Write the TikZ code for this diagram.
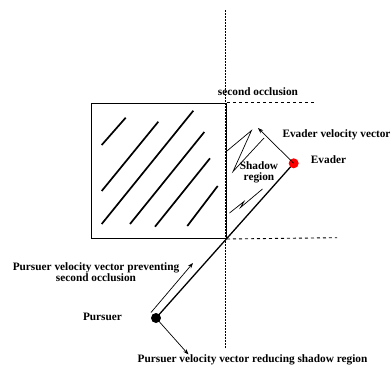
\documentclass[tikz,border=0pt]{standalone}
\usepackage{fontspec}
\setmainfont{Liberation Serif}
\usetikzlibrary{arrows.meta}
\begin{document}
\begin{tikzpicture}[x=1pt,y=-1pt,
  lbl/.style={font=\bfseries\fontsize{11.3}{11}\selectfont, inner sep=0pt, align=center},
  thin line/.style={line width=0.7pt},
  vec/.style={line width=0.7pt, -{Stealth[length=5.5pt,width=4pt]}},
  hatch/.style={line width=1.7pt},
  dotline/.style={line width=0.9pt, dash pattern=on 1.5pt off 1.5pt},
  dashline/.style={line width=0.9pt, dash pattern=on 3pt off 3pt}]
\useasboundingbox (0,0) rectangle (391,367);
% obstacle
\node[draw, line width=1.3pt, minimum width=134.7pt, minimum height=135pt, inner sep=0pt, anchor=north west] (box) at (91,102.7) {};
\draw[hatch] (101.7,145) -- (125.7,117.7);
\draw[hatch] (101.7,191) -- (158.3,121.7);
\draw[hatch] (101.7,224) -- (193.3,110.7);
\draw[hatch] (130,224) -- (204.3,132);
\draw[hatch] (155,226.7) -- (210,158.3);
\draw[hatch] (187.3,226) -- (217.7,186);
% guide lines
\coordinate (vtop) at (225.7,10);
\coordinate (vbot) at (225.7,348);
\draw[dotline] (vtop) -- (vbot);
\coordinate (dt) at (314,102.7);
\coordinate (db) at (337,237.7);
\draw[dashline] (box.north east) -- (dt);
\draw[dashline] (box.south east) -- (db);
% agents
\coordinate (Ec) at (293.7,163.3);
\coordinate (Pc) at (156,318);
\draw[line width=1.3pt] (Pc) -- (Ec);
\node[circle, fill=red, minimum size=10pt, inner sep=0pt] (E) at (Ec) {};
\node[circle, fill=black, minimum size=10pt, inner sep=0pt] (P) at (Pc) {};
% shadow region boundary with breaks
\coordinate (s1) at (225.7,152);
\coordinate (s2) at (251.5,130.5);
\coordinate (s3) at (233,171.5);
\coordinate (s4) at (264,138);
\draw[thin line] (s1) -- (s2) -- (s3) -- (s4);
\coordinate (t1) at (229.5,213);
\coordinate (t2) at (244,201.5);
\coordinate (t3) at (240.5,207.5);
\coordinate (t4) at (262.5,189);
\draw[thin line] (t1) -- (t2) -- (t3) -- (t4);
% velocity vectors
\coordinate (ev) at (258,128);
\draw[vec] (Ec) -- (ev);
\coordinate (pv1a) at (151,312.5);
\coordinate (pv1b) at (193,263);
\draw[vec] (pv1a) -- (pv1b);
\coordinate (pv2) at (188.5,354.5);
\draw[vec] (Pc) -- (pv2);
% labels
\node[lbl] (lso) at (258,92) {second occlusion};
\node[lbl] (lev) at (336.5,135) {Evader velocity vector};
\node[lbl] (le) at (328.5,160) {Evader};
\node[lbl] (lsr) at (259,172.5) {Shadow\\region};
\node[lbl] (lpp) at (96,272) {Pursuer velocity vector preventing\\second occlusion};
\node[lbl] (lp) at (102.5,317) {Pursuer};
\node[lbl] (lpr) at (252.5,360) {Pursuer velocity vector reducing shadow region};
\end{tikzpicture}
\end{document}
